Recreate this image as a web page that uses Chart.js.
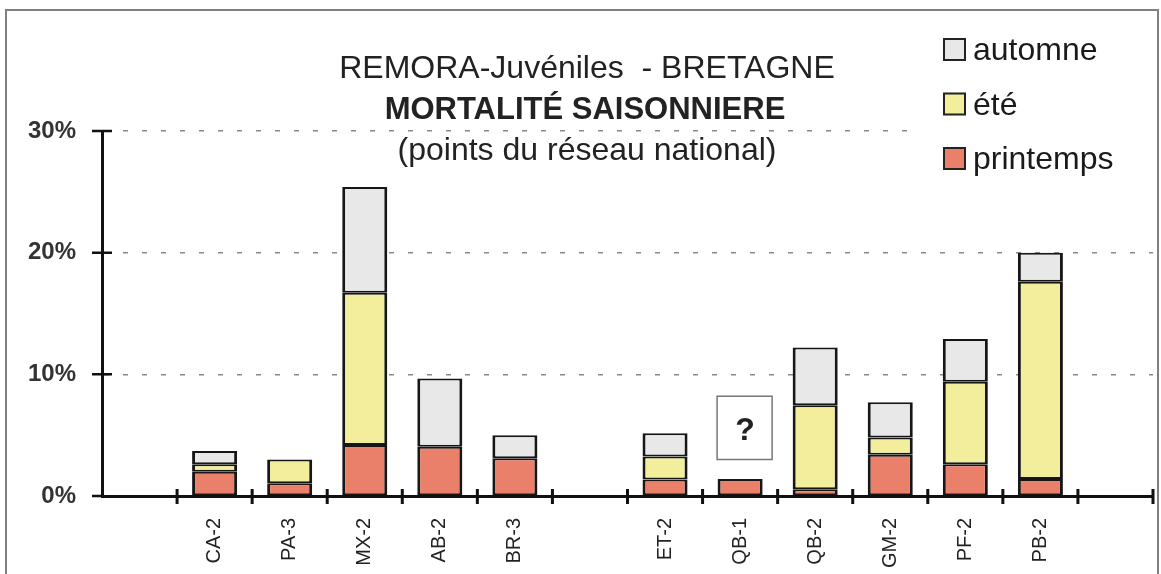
<!DOCTYPE html>
<html>
<head>
<meta charset="utf-8">
<script src="https://cdn.jsdelivr.net/npm/chart.js@4.4.1/dist/chart.umd.min.js"></script>
<style>
  html, body { margin: 0; padding: 0; background: #fff; }
</style>
</head>
<body>
<canvas id="myChart" width="1161" height="574"></canvas>
<script>
// stations (empty slots are the gaps of the original sheet)
var categories = ['', 'CA-2', 'PA-3', 'MX-2', 'AB-2', 'BR-3', '', 'ET-2', 'QB-1', 'QB-2', 'GM-2', 'PF-2', 'PB-2', ''];
// mortality per season, in %
var printemps = [null, 2.0, 1.05, 4.2, 4.05, 3.1, null, 1.35, 1.4, 0.55, 3.4, 2.6, 1.4, null];
var ete       = [null, 0.6, 1.95, 12.5, 0, 0, null, 1.9, null, 6.9, 1.4, 6.8, 16.2, null];
var automne   = [null, 1.1, 0, 8.7, 5.6, 1.9, null, 1.9, null, 4.75, 2.9, 3.5, 2.4, null];
var yTicks = [0, 10, 20, 30];
var titleLines = ['REMORA-Juvéniles  - BRETAGNE', 'MORTALITÉ SAISONNIERE', '(points du réseau national)'];
var unknownStation = 'QB-1';

var FONT = "'Liberation Sans', Arial, sans-serif";

var decor = {
  id: 'decor',
  beforeDraw: function(chart) {
    var c = chart.ctx;
    c.save();
    c.fillStyle = '#fff';
    c.fillRect(0, 0, chart.width, chart.height);
    c.strokeStyle = '#808080';
    c.lineWidth = 2;
    c.strokeRect(6, 10, chart.width - 9, chart.height + 10);
    c.restore();
  },
  afterDraw: function(chart) {
    var c = chart.ctx, x = chart.scales.x, y = chart.scales.y, area = chart.chartArea;
    c.save();

    // ticks crossing the x axis at category boundaries
    var step = x.getPixelForValue(1) - x.getPixelForValue(0);
    c.strokeStyle = '#111';
    c.lineWidth = 3;
    c.beginPath();
    for (var i = 0; i < categories.length; i++) {
      var px = x.getPixelForValue(i) + step / 2;
      c.moveTo(px, area.bottom - 7);
      c.lineTo(px, area.bottom + 8);
    }
    c.stroke();

    // ticks crossing the y axis
    c.lineWidth = 2.5;
    c.beginPath();
    yTicks.forEach(function(v) {
      var py = y.getPixelForValue(v);
      c.moveTo(area.left - 10, py);
      c.lineTo(v === 0 ? area.left : area.left + 10, py);
    });
    c.stroke();

    // title
    c.fillStyle = '#222';
    c.textAlign = 'center';
    c.textBaseline = 'alphabetic';
    c.font = '32px ' + FONT;
    c.fillText(titleLines[0], 587, 78);
    c.font = 'bold 31px ' + FONT;
    c.fillText(titleLines[1], 585, 119);
    c.font = '32px ' + FONT;
    c.fillText(titleLines[2], 587, 160);

    // legend
    c.fillStyle = '#fff';
    c.fillRect(908, 22, 246, 165);
    c.textAlign = 'left';
    c.font = '32px ' + FONT;
    var ds = chart.data.datasets.slice().reverse();
    ds.forEach(function(d, k) {
      var cy = 49 + k * 54.5;
      c.fillStyle = d.backgroundColor;
      c.fillRect(944, cy - 10, 21, 21);
      c.strokeStyle = '#222';
      c.lineWidth = 2;
      c.strokeRect(944, cy - 10, 21, 21);
      c.fillStyle = '#1a1a1a';
      c.fillText(d.label, 973, cy + 11);
    });

    // "?" box above the station with unknown seasons
    var qi = categories.indexOf(unknownStation);
    var qx = x.getPixelForValue(qi) + 4;
    var top = y.getPixelForValue(8.2), bottom = y.getPixelForValue(3);
    c.fillStyle = '#fff';
    c.fillRect(qx - 27, top, 55, bottom - top);
    c.strokeStyle = '#777';
    c.lineWidth = 1.5;
    c.strokeRect(qx - 27, top, 55, bottom - top);
    c.fillStyle = '#222';
    c.textAlign = 'center';
    c.font = 'bold 32px ' + FONT;
    c.fillText('?', qx + 1, (top + bottom) / 2 + 12);

    c.restore();
  }
};

var barBorder = { top: 2, bottom: 2, left: 3, right: 3 };

var myChart = new Chart(document.getElementById('myChart').getContext('2d'), {
  type: 'bar',
  data: {
    labels: categories,
    datasets: [
      { label: 'printemps', data: printemps, backgroundColor: '#ea7f6a' },
      { label: 'été', data: ete, backgroundColor: '#f2ee9c' },
      { label: 'automne', data: automne, backgroundColor: '#e8e8e8' }
    ].map(function(d) {
      d.borderColor = '#161616';
      d.borderWidth = barBorder;
      d.borderSkipped = false;
      d.categoryPercentage = 1;
      d.barPercentage = 0.6;
      return d;
    })
  },
  options: {
    responsive: false,
    animation: false,
    layout: { padding: { top: 131, right: 8, left: 0, bottom: 0 } },
    scales: {
      x: {
        stacked: true,
        afterFit: function(s) { s.height = 78; },
        grid: { display: false },
        border: { display: true, color: '#111', width: 3 },
        ticks: {
          autoSkip: false,
          minRotation: 90,
          maxRotation: 90,
          padding: 14,
          color: '#222',
          font: { family: FONT, size: 20 }
        }
      },
      y: {
        stacked: true,
        min: 0,
        max: 30,
        afterFit: function(s) { s.width = 102; },
        afterBuildTicks: function(s) {
          s.ticks = yTicks.map(function(v) { return { value: v }; });
        },
        grid: {
          drawTicks: false,
          lineWidth: 1.5,
          color: function(c) { return c.tick && c.tick.value === 0 ? 'rgba(0,0,0,0)' : '#8a8a8a'; }
        },
        border: { display: true, color: '#111', width: 3, dash: [5, 14] },
        ticks: {
          padding: 26,
          color: '#333',
          font: { family: FONT, size: 24, weight: 'bold' },
          callback: function(value) { return value + '%'; }
        }
      }
    },
    plugins: {
      legend: { display: false },
      title: { display: false },
      tooltip: { enabled: false }
    }
  },
  plugins: [decor]
});
</script>
</body>
</html>
